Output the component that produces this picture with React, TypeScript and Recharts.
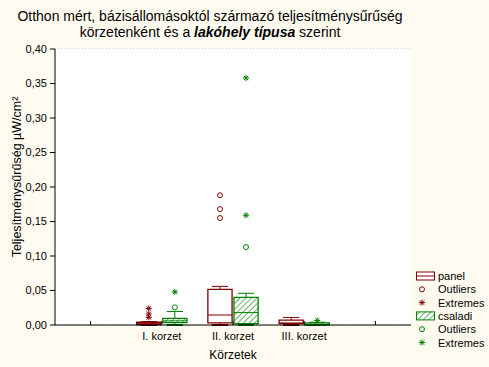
import React from "react";
import {
  ComposedChart,
  XAxis,
  YAxis,
  CartesianGrid,
  Scatter,
  ReferenceArea,
  ReferenceLine,
  Legend,
} from "recharts";

// ─── Data ──────────────────────────────────────────────────────────
const categories = ["I. korzet", "II. korzet", "III. korzet"];
const xTicks = [0, 1, 2, 3, 4];
const yTicks = [0, 0.05, 0.1, 0.15, 0.2, 0.25, 0.3, 0.35, 0.4];

// panel
const panelMin = [0, 0, 0];
const panelQ1 = [0.0005, 0.003, 0.002];
const panelMedian = [0.002, 0.0145, 0.003];
const panelQ3 = [0.004, 0.0515, 0.007];
const panelMax = [0.005, 0.056, 0.011];
const panelOutliers = [[], [0.188, 0.168, 0.155], []];
const panelExtremes = [[0.024, 0.016, 0.011], [], []];

// csaladi
const csaladiMin = [0, 0, 0];
const csaladiQ1 = [0.0035, 0.002, 0];
const csaladiMedian = [0.006, 0.018, 0.001];
const csaladiQ3 = [0.0095, 0.04, 0.003];
const csaladiMax = [0.0195, 0.046, 0.004];
const csaladiOutliers = [[0.0255], [0.113], []];
const csaladiExtremes = [[0.048], [0.159, 0.358], [0.0065]];

// ─── Styling ───────────────────────────────────────────────────────
const W = 489;
const H = 367;
const BG = "#fffbf0";
const RED = "#800000";
const GREEN = "#008000";
const FONT = "Arial, 'Liberation Sans', sans-serif";
const OFFSET = 0.183; // group offset from category centre (x units)
const HALF_BOX = 0.17;
const HALF_CAP = 0.115;

const groups = [
  {
    name: "panel",
    color: RED,
    fill: "#ffffff",
    shift: -OFFSET,
    min: panelMin,
    q1: panelQ1,
    med: panelMedian,
    q3: panelQ3,
    max: panelMax,
    outliers: panelOutliers,
    extremes: panelExtremes,
  },
  {
    name: "csaladi",
    color: GREEN,
    fill: "url(#hatchGreen)",
    shift: OFFSET,
    min: csaladiMin,
    q1: csaladiQ1,
    med: csaladiMedian,
    q3: csaladiQ3,
    max: csaladiMax,
    outliers: csaladiOutliers,
    extremes: csaladiExtremes,
  },
];

const points = (vals: number[][], shift: number) =>
  vals.flatMap((list, i) => list.map((v) => ({ x: i + 1 + shift, y: v })));

const fmtY = (v: number) => v.toFixed(2).replace(".", ",");
const fmtX = (v: number) => categories[v - 1] ?? "";

// ─── Marker shapes ────────────────────────────────────────────────
function Ring({ cx, cy, color }: { cx: number; cy: number; color: string }) {
  return <circle cx={cx} cy={cy} r={2.5} fill="none" stroke={color} strokeWidth={1} />;
}

function Star({ cx, cy, color }: { cx: number; cy: number; color: string }) {
  const s = 3;
  return (
    <g stroke={color} strokeWidth={1}>
      <line x1={cx - s} y1={cy} x2={cx + s} y2={cy} />
      <line x1={cx} y1={cy - s} x2={cx} y2={cy + s} />
      <line x1={cx - 2.2} y1={cy - 2.2} x2={cx + 2.2} y2={cy + 2.2} />
      <line x1={cx - 2.2} y1={cy + 2.2} x2={cx + 2.2} y2={cy - 2.2} />
    </g>
  );
}

// ─── Legend ───────────────────────────────────────────────────────
const legendRows = groups.flatMap((g) => [
  { kind: "box", label: g.name, color: g.color, fill: g.fill },
  { kind: "ring", label: "Outliers", color: g.color, fill: "none" },
  { kind: "star", label: "Extremes", color: g.color, fill: "none" },
]);

function LegendBox() {
  return (
    <svg width={77} height={84} style={{ display: "block" }}>
      {legendRows.map((r, i) => {
        const y = 8 + i * 13.3;
        return (
          <g key={i}>
            {r.kind === "box" && (
              <g>
                <rect x={4.5} y={y - 4} width={18} height={8} fill={r.fill} stroke={r.color} />
                {r.fill === "#ffffff" && <line x1={4.5} x2={22.5} y1={y} y2={y} stroke={r.color} />}
              </g>
            )}
            {r.kind === "ring" && <Ring cx={10} cy={y} color={r.color} />}
            {r.kind === "star" && <Star cx={10} cy={y} color={r.color} />}
            <text x={26} y={y + 4} fontSize={11} fontFamily={FONT} fill="#000">
              {r.label}
            </text>
          </g>
        );
      })}
    </svg>
  );
}

export default function App() {
  return (
    <div style={{ position: "absolute", left: 0, top: 0, width: W, height: H, background: BG }}>
      <ComposedChart
        width={W}
        height={H}
        margin={{ top: 49, right: 78, bottom: 6, left: 15 }}
        style={{ fontFamily: FONT }}
      >
        <defs>
          <pattern
            id="hatchGreen"
            width={4}
            height={4}
            patternUnits="userSpaceOnUse"
            patternTransform="rotate(45)"
          >
            <rect width={4} height={4} fill="#ffffff" />
            <line x1={0} y1={0} x2={0} y2={4} stroke={GREEN} strokeWidth={1.2} />
          </pattern>
        </defs>

        <rect x={55} y={49} width={356} height={276} fill="#ffffff" />

        <text x={210} y={21} textAnchor="middle" fontSize={14} fontFamily={FONT} fill="#000">
          Otthon mért, bázisállomásoktól származó teljesítménysűrűség
        </text>
        <text x={210} y={36.5} textAnchor="middle" fontSize={14} fontFamily={FONT} fill="#000">
          körzetenként és a{" "}
          <tspan fontWeight="bold" fontStyle="italic">
            lakóhely típusa
          </tspan>{" "}
          szerint
        </text>
        <text
          x={0}
          y={0}
          transform="translate(21,177) rotate(-90)"
          textAnchor="middle"
          fontSize={12.5}
          fontFamily={FONT}
          fill="#000"
        >
          Teljesítménysűrűség µW/cm²
        </text>
        <text x={233} y={359} textAnchor="middle" fontSize={12} fontFamily={FONT} fill="#000">
          Körzetek
        </text>

        <CartesianGrid horizontal vertical={false} stroke="#a0a0a0" strokeDasharray="1 2" />

        <XAxis
          type="number"
          dataKey="x"
          domain={[-0.5, 4.5]}
          ticks={xTicks}
          tickFormatter={fmtX}
          interval={0}
          height={36}
          tickSize={-4}
          tickMargin={11}
          axisLine={{ stroke: "#000" }}
          tickLine={{ stroke: "#000" }}
          tick={{ fill: "#000", fontSize: 11 }}
        />
        <XAxis
          xAxisId="top"
          orientation="top"
          type="number"
          domain={[-0.5, 4.5]}
          ticks={xTicks}
          height={0}
          tickSize={-4}
          tick={false}
          axisLine={{ stroke: "#000" }}
          tickLine={{ stroke: "#000" }}
        />
        <YAxis
          type="number"
          dataKey="y"
          domain={[0, 0.4]}
          ticks={yTicks}
          tickFormatter={fmtY}
          width={40}
          tickSize={5}
          tickMargin={3}
          axisLine={{ stroke: "#000" }}
          tickLine={{ stroke: "#000" }}
          tick={{ fill: "#000", fontSize: 11 }}
        />
        <YAxis
          yAxisId="r"
          orientation="right"
          type="number"
          domain={[0, 0.4]}
          width={0}
          tick={false}
          tickLine={false}
          axisLine={{ stroke: "#000" }}
        />

        {groups.flatMap((g) =>
          categories.flatMap((_, i) => {
            const cx = i + 1 + g.shift;
            return [
              <ReferenceLine
                key={`${g.name}-wu-${i}`}
                segment={[{ x: cx, y: g.q3[i] }, { x: cx, y: g.max[i] }]}
                stroke={g.color}
                ifOverflow="visible"
              />,
              <ReferenceLine
                key={`${g.name}-wl-${i}`}
                segment={[{ x: cx, y: g.min[i] }, { x: cx, y: g.q1[i] }]}
                stroke={g.color}
                ifOverflow="visible"
              />,
              <ReferenceLine
                key={`${g.name}-cu-${i}`}
                segment={[{ x: cx - HALF_CAP, y: g.max[i] }, { x: cx + HALF_CAP, y: g.max[i] }]}
                stroke={g.color}
                ifOverflow="visible"
              />,
              <ReferenceLine
                key={`${g.name}-cl-${i}`}
                segment={[{ x: cx - HALF_CAP, y: g.min[i] }, { x: cx + HALF_CAP, y: g.min[i] }]}
                stroke={g.color}
                strokeWidth={2}
                ifOverflow="visible"
              />,
              <ReferenceArea
                key={`${g.name}-box-${i}`}
                x1={cx - HALF_BOX}
                x2={cx + HALF_BOX}
                y1={g.q1[i]}
                y2={g.q3[i]}
                fill={g.fill}
                fillOpacity={1}
                stroke={g.color}
                strokeWidth={1.3}
                ifOverflow="visible"
              />,
              <ReferenceLine
                key={`${g.name}-med-${i}`}
                segment={[{ x: cx - HALF_BOX, y: g.med[i] }, { x: cx + HALF_BOX, y: g.med[i] }]}
                stroke={g.color}
                ifOverflow="visible"
              />,
            ];
          })
        )}

        {groups.map((g) => (
          <Scatter
            key={`${g.name}-out`}
            name={`${g.name} Outliers`}
            data={points(g.outliers, g.shift)}
            isAnimationActive={false}
            shape={(p: any) => <Ring cx={p.cx} cy={p.cy} color={g.color} />}
          />
        ))}
        {groups.map((g) => (
          <Scatter
            key={`${g.name}-ext`}
            name={`${g.name} Extremes`}
            data={points(g.extremes, g.shift)}
            isAnimationActive={false}
            shape={(p: any) => <Star cx={p.cx} cy={p.cy} color={g.color} />}
          />
        ))}

        <Legend
          layout="vertical"
          align="center"
          verticalAlign="middle"
          wrapperStyle={{ left: 412, top: 268, width: 77, right: "auto", bottom: "auto" }}
          content={() => <LegendBox />}
        />
      </ComposedChart>
    </div>
  );
}
